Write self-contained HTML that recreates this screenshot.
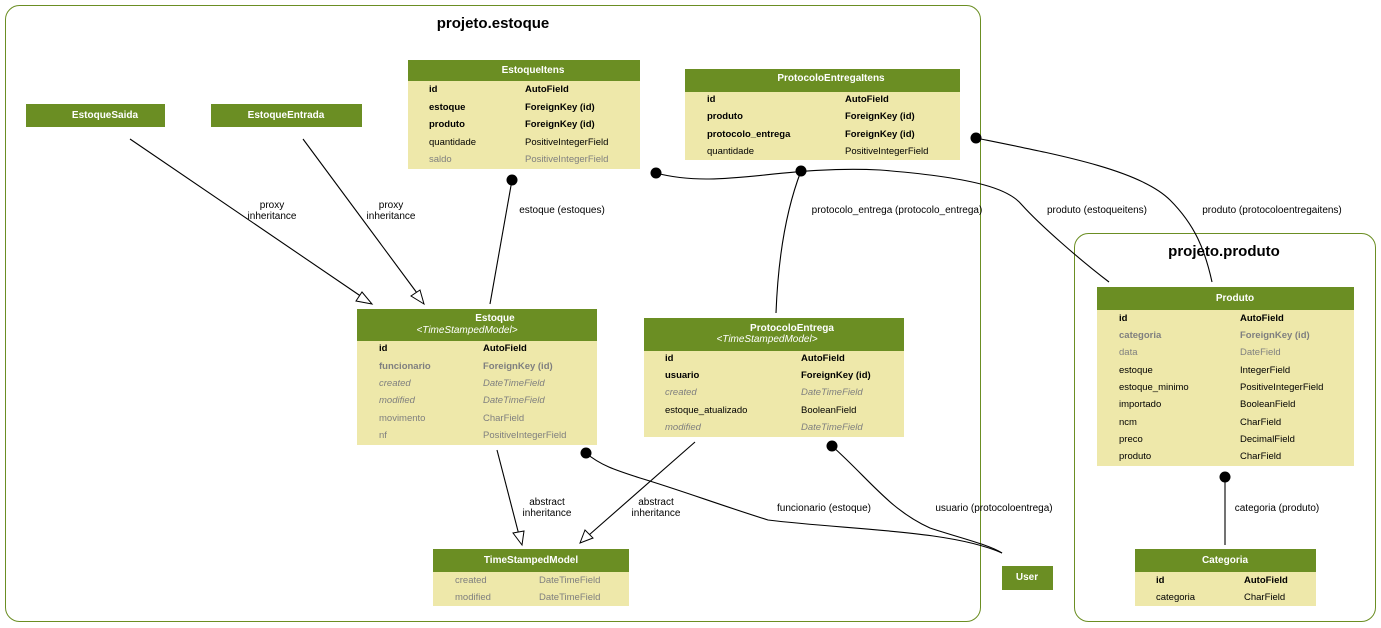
<!DOCTYPE html>
<html><head><meta charset="utf-8"><style>
html,body{margin:0;padding:0;background:#fff;width:1381px;height:628px;overflow:hidden}
svg{display:block;font-family:"Liberation Sans",sans-serif}
.h{fill:#6b8e23}.b{fill:#eee8aa}
.ht{fill:#fff;font-weight:bold;font-size:10px;text-anchor:middle}
.hi{fill:#fff;font-style:italic;font-size:10px;text-anchor:middle}
.r{font-size:9.5px;fill:#000}
.bd{font-weight:bold}
.g{fill:#7f7f7f}
.i{font-style:italic}
.l{font-size:10px;fill:#000;text-anchor:middle}
.e{fill:none;stroke:#000;stroke-width:1.1}
</style></head><body>
<svg width="1381" height="628" viewBox="0 0 1381 628">
<rect x="5.5" y="5.5" width="975" height="616" rx="14" fill="none" stroke="#6b8e23"/>
<text x="493" y="28" font-size="15" font-weight="bold" text-anchor="middle">projeto.estoque</text>
<rect x="1074.5" y="233.5" width="301" height="388" rx="14" fill="none" stroke="#6b8e23"/>
<text x="1224" y="256" font-size="15" font-weight="bold" text-anchor="middle">projeto.produto</text>

<path class="e" d="M130,139 L362,297"/>
<polygon points="372,304 356,301 362,292" fill="#fff" stroke="#000"/>
<text class="l" x="272" y="208">proxy</text><text class="l" x="272" y="219">inheritance</text>
<path class="e" d="M303,139 L417,293"/>
<polygon points="424,304 411,296 420,290" fill="#fff" stroke="#000"/>
<text class="l" x="391" y="208">proxy</text><text class="l" x="391" y="219">inheritance</text>
<path class="e" d="M490,304 L512,180"/><circle cx="512" cy="180" r="5.5"/>
<text class="l" x="562" y="213">estoque (estoques)</text>
<path class="e" d="M776,313 C778,260 786,210 801,171"/><circle cx="801" cy="171" r="5.5"/>
<text class="l" x="897" y="213">protocolo_entrega (protocolo_entrega)</text>
<path class="e" d="M656,173 C720,190 780,165 880,170 C980,178 1010,190 1022,205 C1040,225 1080,260 1109,282"/><circle cx="656" cy="173" r="5.5"/>
<text class="l" x="1097" y="213">produto (estoqueitens)</text>
<path class="e" d="M976,138 C1060,155 1140,170 1170,200 C1195,225 1205,250 1212,282"/><circle cx="976" cy="138" r="5.5"/>
<text class="l" x="1272" y="213">produto (protocoloentregaitens)</text>
<path class="e" d="M497,450 L519,535"/>
<polygon points="522,545 513,533 524,531" fill="#fff" stroke="#000"/>
<text class="l" x="547" y="505">abstract</text><text class="l" x="547" y="516">inheritance</text>
<path class="e" d="M695,442 L589,535"/>
<polygon points="580,543 585,530 593,538" fill="#fff" stroke="#000"/>
<text class="l" x="656" y="505">abstract</text><text class="l" x="656" y="516">inheritance</text>
<path class="e" d="M586,453 C600,465 615,470 640,478 C680,490 720,505 768,520 C850,530 950,530 1002,553"/><circle cx="586" cy="453" r="5.5"/>
<text class="l" x="824" y="511">funcionario (estoque)</text>
<path class="e" d="M832,446 C870,480 890,510 930,528 C960,538 990,545 1002,553"/><circle cx="832" cy="446" r="5.5"/>
<text class="l" x="994" y="511">usuario (protocoloentrega)</text>
<path class="e" d="M1225,545 L1225,477"/><circle cx="1225" cy="477" r="5.5"/>
<text class="l" x="1277" y="511">categoria (produto)</text>

<rect class="h" x="26" y="104" width="139" height="23"/><text class="ht" x="105" y="118">EstoqueSaida</text>
<rect class="h" x="211" y="104" width="151" height="23"/><text class="ht" x="286" y="118">EstoqueEntrada</text>

<rect class="b" x="408" y="60" width="232" height="109"/>
<rect class="h" x="408" y="60" width="232" height="21"/><text class="ht" x="533" y="73">EstoqueItens</text>
<g class="r">
<text class="bd" x="429" y="92">id</text><text class="bd" x="525" y="92">AutoField</text>
<text class="bd" x="429" y="110">estoque</text><text class="bd" x="525" y="110">ForeignKey (id)</text>
<text class="bd" x="429" y="127">produto</text><text class="bd" x="525" y="127">ForeignKey (id)</text>
<text x="429" y="145">quantidade</text><text x="525" y="145">PositiveIntegerField</text>
<text class="g" x="429" y="162">saldo</text><text class="g" x="525" y="162">PositiveIntegerField</text>
</g>

<rect class="b" x="685" y="69" width="275" height="91"/>
<rect class="h" x="685" y="69" width="275" height="23"/><text class="ht" x="831" y="81">ProtocoloEntregaItens</text>
<g class="r">
<text class="bd" x="707" y="102">id</text><text class="bd" x="845" y="102">AutoField</text>
<text class="bd" x="707" y="119">produto</text><text class="bd" x="845" y="119">ForeignKey (id)</text>
<text class="bd" x="707" y="137">protocolo_entrega</text><text class="bd" x="845" y="137">ForeignKey (id)</text>
<text x="707" y="154">quantidade</text><text x="845" y="154">PositiveIntegerField</text>
</g>

<rect class="b" x="357" y="309" width="240" height="136"/>
<rect class="h" x="357" y="309" width="240" height="32"/>
<text class="ht" x="495" y="321">Estoque</text><text class="hi" x="467" y="333">&lt;TimeStampedModel&gt;</text>
<g class="r">
<text class="bd" x="379" y="351">id</text><text class="bd" x="483" y="351">AutoField</text>
<text class="bd g" x="379" y="369">funcionario</text><text class="bd g" x="483" y="369">ForeignKey (id)</text>
<text class="i g" x="379" y="386">created</text><text class="i g" x="483" y="386">DateTimeField</text>
<text class="i g" x="379" y="403">modified</text><text class="i g" x="483" y="403">DateTimeField</text>
<text class="g" x="379" y="421">movimento</text><text class="g" x="483" y="421">CharField</text>
<text class="g" x="379" y="438">nf</text><text class="g" x="483" y="438">PositiveIntegerField</text>
</g>

<rect class="b" x="644" y="318" width="260" height="119"/>
<rect class="h" x="644" y="318" width="260" height="33"/>
<text class="ht" x="792" y="331">ProtocoloEntrega</text><text class="hi" x="767" y="342">&lt;TimeStampedModel&gt;</text>
<g class="r">
<text class="bd" x="665" y="361">id</text><text class="bd" x="801" y="361">AutoField</text>
<text class="bd" x="665" y="378">usuario</text><text class="bd" x="801" y="378">ForeignKey (id)</text>
<text class="i g" x="665" y="395">created</text><text class="i g" x="801" y="395">DateTimeField</text>
<text x="665" y="413">estoque_atualizado</text><text x="801" y="413">BooleanField</text>
<text class="i g" x="665" y="430">modified</text><text class="i g" x="801" y="430">DateTimeField</text>
</g>

<rect class="b" x="433" y="549" width="196" height="57"/>
<rect class="h" x="433" y="549" width="196" height="23"/><text class="ht" x="531" y="563">TimeStampedModel</text>
<g class="r">
<text class="g" x="455" y="583">created</text><text class="g" x="539" y="583">DateTimeField</text>
<text class="g" x="455" y="600">modified</text><text class="g" x="539" y="600">DateTimeField</text>
</g>

<rect class="h" x="1002" y="566" width="51" height="24"/><text class="ht" x="1027" y="580">User</text>

<rect class="b" x="1097" y="287" width="257" height="179"/>
<rect class="h" x="1097" y="287" width="257" height="23"/><text class="ht" x="1235" y="301">Produto</text>
<g class="r">
<text class="bd" x="1119" y="321">id</text><text class="bd" x="1240" y="321">AutoField</text>
<text class="bd g" x="1119" y="338">categoria</text><text class="bd g" x="1240" y="338">ForeignKey (id)</text>
<text class="g" x="1119" y="355">data</text><text class="g" x="1240" y="355">DateField</text>
<text x="1119" y="373">estoque</text><text x="1240" y="373">IntegerField</text>
<text x="1119" y="390">estoque_minimo</text><text x="1240" y="390">PositiveIntegerField</text>
<text x="1119" y="407">importado</text><text x="1240" y="407">BooleanField</text>
<text x="1119" y="425">ncm</text><text x="1240" y="425">CharField</text>
<text x="1119" y="442">preco</text><text x="1240" y="442">DecimalField</text>
<text x="1119" y="459">produto</text><text x="1240" y="459">CharField</text>
</g>

<rect class="b" x="1135" y="549" width="181" height="57"/>
<rect class="h" x="1135" y="549" width="181" height="23"/><text class="ht" x="1225" y="563">Categoria</text>
<g class="r">
<text class="bd" x="1156" y="583">id</text><text class="bd" x="1244" y="583">AutoField</text>
<text x="1156" y="600">categoria</text><text x="1244" y="600">CharField</text>
</g>
</svg>
</body></html>
